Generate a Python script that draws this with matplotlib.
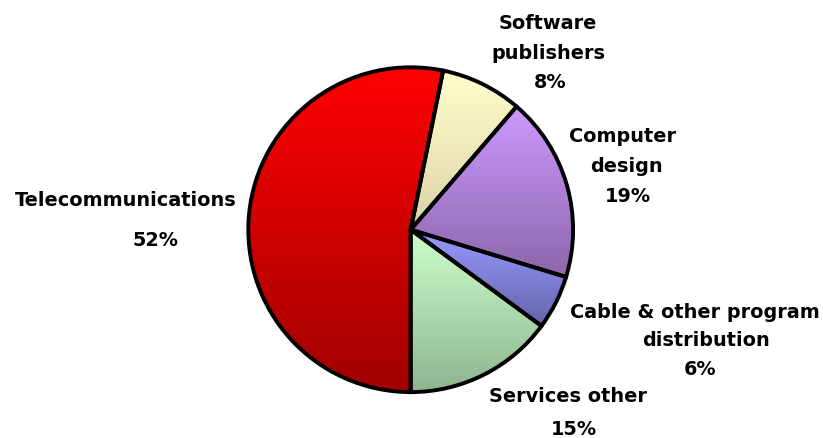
import numpy as np
import matplotlib
matplotlib.use("Agg")
import matplotlib.pyplot as plt
from matplotlib.colors import LinearSegmentedColormap

# ---- data ----
categories = ["Telecommunications", "Software\npublishers", "Computer\ndesign",
              "Cable & other program\ndistribution", "Services other"]
values = [53.2, 8.1, 18.4, 5.4, 14.9]
pct_labels = ["52%", "8%", "19%", "6%", "15%"]
top_colors = ["#FF0000", "#FFFFCC", "#CC99FF", "#9999FF", "#CCFFCC"]
bottom_colors = ["#A00000", "#DCD2A8", "#8C66AA", "#6464AA", "#8FB58F"]

W, H = 823, 439
fig = plt.figure(figsize=(W / 100, H / 100), dpi=100)
ax = fig.add_axes([0, 0, 1, 1])

cx, cy, r = 410.7, H - 230.7, 162.4
wedges, _ = ax.pie(values, center=(cx, cy), radius=r, startangle=-90,
                   counterclock=False, colors=["none"] * len(values),
                   wedgeprops=dict(edgecolor="black", linewidth=2.8, zorder=3))

for w, ct, cb in zip(wedges, top_colors, bottom_colors):
    bb = w.get_path().get_extents()
    cmap = LinearSegmentedColormap.from_list("g", [cb, ct])
    grad = np.linspace(0, 1, 256).reshape(-1, 1)
    im = ax.imshow(grad, cmap=cmap, origin="lower", aspect="auto",
                   extent=[bb.x0, bb.x1, bb.y0, bb.y1], zorder=1,
                   interpolation="bicubic")
    im.set_clip_path(w)

ax.set_xlim(0, W)
ax.set_ylim(0, H)
ax.set_aspect("equal")
ax.axis("off")

font = dict(family="DejaVu Sans", fontweight="bold", fontsize=13.9,
            color="black", ha="center", va="center")

# label line positions in pixel coordinates (x, y) per line
label_pos = [
    [(126, 201), (156, 241)],
    [(548, 23), (548, 53), (550, 83)],
    [(623, 137), (626, 167), (628, 197)],
    [(695, 312), (706, 340), (700, 370)],
    [(568, 397), (574, 430)],
]
for cat, pl, pos in zip(categories, pct_labels, label_pos):
    lines = cat.split("\n") + [pl]
    for txt, (x, y) in zip(lines, pos):
        ax.text(x, H - y, txt, **font)

fig.savefig("out.png", dpi=100)
